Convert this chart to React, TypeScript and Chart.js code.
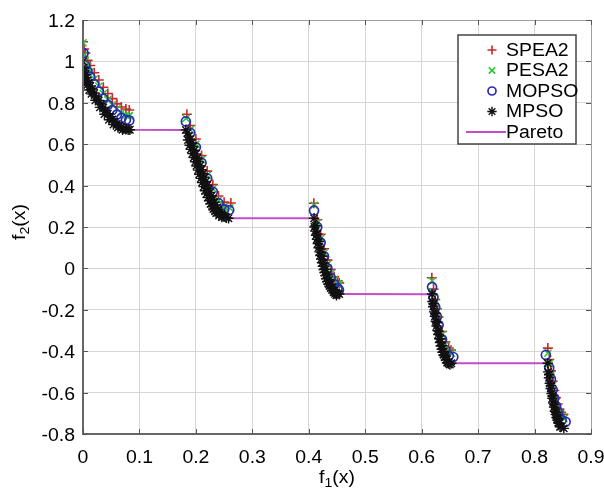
import React, { useEffect, useRef } from "react";
import { Chart, registerables } from "chart.js";
Chart.register(...registerables);

type P = [number, number];

const xTickValues = [0, 0.1, 0.2, 0.3, 0.4, 0.5, 0.6, 0.7, 0.8, 0.9];
const xTickLabels = ["0", "0.1", "0.2", "0.3", "0.4", "0.5", "0.6", "0.7", "0.8", "0.9"];
const yTickValues = [-0.8, -0.6, -0.4, -0.2, 0, 0.2, 0.4, 0.6, 0.8, 1, 1.2];
const yTickLabels = ["-0.8", "-0.6", "-0.4", "-0.2", "0", "0.2", "0.4", "0.6", "0.8", "1", "1.2"];
const seriesLabels = ["SPEA2", "PESA2", "MOPSO", "MPSO", "Pareto"];
const xTitleMain = "f";
const xTitleSub = "1";
const yTitleSub = "2";
const titleTail = "(x)";

const spea2: P[] = [
  [0, 1.095], [0.002, 1.06], [0.004, 1.04], [0.008, 1.005], [0.013, 0.98], [0.02, 0.945], [0.028, 0.91], [0.036, 0.875],
  [0.044, 0.845], [0.052, 0.82], [0.06, 0.795], [0.068, 0.78], [0.076, 0.77], [0.082, 0.765],
  [0.184, 0.745], [0.19, 0.69], [0.2, 0.625], [0.21, 0.545], [0.22, 0.47], [0.23, 0.405], [0.24, 0.35], [0.25, 0.32], [0.262, 0.316],
  [0.409, 0.315], [0.415, 0.235], [0.421, 0.165], [0.427, 0.095], [0.433, 0.04], [0.439, -0.005], [0.445, -0.04], [0.451, -0.06], [0.454, -0.07],
  [0.618, -0.045], [0.621, -0.1], [0.624, -0.15], [0.627, -0.195], [0.63, -0.235], [0.636, -0.305], [0.642, -0.355], [0.648, -0.385], [0.652, -0.395],
  [0.8235, -0.385], [0.826, -0.44], [0.829, -0.495], [0.832, -0.545], [0.835, -0.59], [0.838, -0.625], [0.841, -0.655], [0.844, -0.68], [0.847, -0.695], [0.851, -0.705],
];

const pesa2: P[] = [
  [0, 1.09], [0.002, 1.03], [0.004, 1.005], [0.008, 0.975], [0.013, 0.95], [0.02, 0.915], [0.028, 0.88], [0.036, 0.845],
  [0.044, 0.815], [0.052, 0.79], [0.06, 0.77], [0.068, 0.752], [0.076, 0.74], [0.082, 0.738],
  [0.1825, 0.725], [0.19, 0.67], [0.2, 0.6], [0.21, 0.525], [0.22, 0.45], [0.23, 0.385], [0.24, 0.33], [0.25, 0.3], [0.26, 0.292],
  [0.4095, 0.305], [0.415, 0.22], [0.421, 0.145], [0.427, 0.075], [0.433, 0.02], [0.439, -0.025], [0.445, -0.055], [0.451, -0.075], [0.454, -0.078],
  [0.6186, -0.06], [0.621, -0.115], [0.624, -0.165], [0.627, -0.21], [0.63, -0.25], [0.636, -0.32], [0.642, -0.37], [0.648, -0.4], [0.653, -0.41],
  [0.8236, -0.41], [0.826, -0.46], [0.829, -0.515], [0.832, -0.565], [0.835, -0.605], [0.838, -0.645], [0.841, -0.675], [0.844, -0.7], [0.847, -0.715], [0.852, -0.725],
];

const mopso: P[] = [
  [0.001, 1.04], [0.004, 0.98], [0.008, 0.952], [0.013, 0.925], [0.02, 0.89], [0.028, 0.855], [0.036, 0.82],
  [0.044, 0.79], [0.052, 0.765], [0.06, 0.743], [0.068, 0.727], [0.076, 0.718], [0.082, 0.715],
  [0.1822, 0.71], [0.19, 0.655], [0.2, 0.585], [0.21, 0.51], [0.22, 0.435], [0.23, 0.37], [0.24, 0.315], [0.25, 0.285], [0.259, 0.282],
  [0.4093, 0.28], [0.415, 0.2], [0.421, 0.125], [0.427, 0.058], [0.433, 0.0], [0.439, -0.045], [0.445, -0.076], [0.451, -0.095], [0.4535, -0.104],
  [0.6184, -0.09], [0.621, -0.14], [0.624, -0.187], [0.627, -0.232], [0.63, -0.274], [0.636, -0.343], [0.642, -0.393], [0.648, -0.422], [0.656, -0.428],
  [0.82, -0.418], [0.826, -0.48], [0.829, -0.535], [0.832, -0.585], [0.835, -0.627], [0.838, -0.665], [0.841, -0.695], [0.844, -0.718], [0.848, -0.733], [0.855, -0.741],
];

const mpso: P[] = [
  [0, 1.0], [0.001, 0.968], [0.002, 0.955], [0.004, 0.936], [0.006, 0.921], [0.008, 0.909], [0.01, 0.897], [0.013, 0.881],
  [0.016, 0.866], [0.02, 0.847], [0.024, 0.829], [0.028, 0.811], [0.032, 0.794], [0.036, 0.778], [0.04, 0.762], [0.044, 0.747],
  [0.048, 0.733], [0.052, 0.72], [0.056, 0.708], [0.06, 0.698], [0.064, 0.689], [0.068, 0.682], [0.072, 0.676], [0.076, 0.672],
  [0.08, 0.67], [0.083, 0.67],
  [0.001, 0.93], [0.003, 0.905], [0.007, 0.885], [0.011, 0.862], [0.015, 0.843], [0.022, 0.812], [0.03, 0.778], [0.038, 0.745],
  [0.046, 0.718], [0.054, 0.695], [0.062, 0.68], [0.07, 0.67],
  [0.1822, 0.669], [0.185, 0.654], [0.1875, 0.639], [0.19, 0.623], [0.1925, 0.606], [0.195, 0.589], [0.1975, 0.571], [0.2, 0.553],
  [0.2025, 0.534], [0.205, 0.515], [0.2075, 0.496], [0.21, 0.477], [0.2125, 0.458], [0.215, 0.439], [0.2175, 0.42], [0.22, 0.402],
  [0.2225, 0.384], [0.225, 0.367], [0.2275, 0.35], [0.23, 0.334], [0.2325, 0.319], [0.235, 0.306], [0.2375, 0.293], [0.24, 0.282],
  [0.2425, 0.272], [0.245, 0.263], [0.2475, 0.256], [0.25, 0.25], [0.254, 0.245], [0.2578, 0.242],
  [0.186, 0.62], [0.189, 0.595], [0.191, 0.575], [0.194, 0.555], [0.196, 0.535], [0.199, 0.515], [0.201, 0.495], [0.204, 0.475],
  [0.206, 0.455], [0.209, 0.435], [0.211, 0.415], [0.214, 0.395], [0.216, 0.375], [0.219, 0.36], [0.221, 0.342], [0.224, 0.327],
  [0.226, 0.312], [0.229, 0.298], [0.231, 0.287], [0.234, 0.276], [0.236, 0.267], [0.241, 0.255], [0.246, 0.248],
  [0.4093, 0.242], [0.412, 0.206], [0.415, 0.167], [0.418, 0.13], [0.421, 0.093], [0.424, 0.059], [0.427, 0.026], [0.43, -0.004],
  [0.433, -0.031], [0.436, -0.055], [0.439, -0.076], [0.442, -0.093], [0.445, -0.107], [0.448, -0.116], [0.451, -0.122], [0.4539, -0.124],
  [0.41, 0.2], [0.4115, 0.18], [0.413, 0.16], [0.4145, 0.14], [0.416, 0.12], [0.4175, 0.1], [0.419, 0.08], [0.4205, 0.062],
  [0.422, 0.045], [0.4235, 0.027], [0.425, 0.01], [0.4265, -0.005], [0.428, -0.02], [0.4295, -0.035], [0.431, -0.05],
  [0.433, -0.063], [0.435, -0.075], [0.437, -0.086], [0.439, -0.095], [0.4415, -0.105], [0.444, -0.115], [0.4465, -0.123], [0.449, -0.13],
  [0.6184, -0.124], [0.621, -0.169], [0.624, -0.217], [0.627, -0.262], [0.63, -0.303], [0.633, -0.34], [0.636, -0.373], [0.639, -0.401],
  [0.642, -0.423], [0.645, -0.44], [0.648, -0.452], [0.6525, -0.458],
  [0.619, -0.16], [0.6205, -0.185], [0.622, -0.21], [0.6235, -0.232], [0.625, -0.255], [0.6265, -0.278], [0.628, -0.3], [0.6295, -0.32],
  [0.631, -0.34], [0.6325, -0.358], [0.634, -0.375], [0.6355, -0.39], [0.637, -0.405], [0.639, -0.418], [0.641, -0.43], [0.643, -0.442],
  [0.645, -0.455], [0.6475, -0.46], [0.65, -0.465],
  [0.8233, -0.458], [0.826, -0.511], [0.829, -0.566], [0.832, -0.615], [0.835, -0.658], [0.838, -0.695], [0.841, -0.725], [0.844, -0.748],
  [0.847, -0.764], [0.8518, -0.773],
  [0.824, -0.5], [0.8255, -0.528], [0.827, -0.555], [0.8285, -0.58], [0.83, -0.605], [0.8315, -0.628], [0.833, -0.65], [0.8345, -0.67],
  [0.836, -0.69], [0.8375, -0.705], [0.839, -0.72], [0.8405, -0.733], [0.842, -0.745], [0.845, -0.765],
];

const pareto: P[] = [
  [0, 1.0], [0.002, 0.955], [0.005, 0.9285], [0.01, 0.8969], [0.02, 0.8468], [0.03, 0.8025], [0.04, 0.762], [0.05, 0.7264],
  [0.06, 0.698], [0.07, 0.6788], [0.083, 0.6696],
  [0.1822, 0.669], [0.19, 0.6228], [0.2, 0.5528], [0.21, 0.4768], [0.22, 0.4017], [0.23, 0.3343], [0.24, 0.2818], [0.25, 0.25], [0.2578, 0.2422],
  [0.4093, 0.2424], [0.415, 0.1674], [0.42, 0.105], [0.43, -0.0036], [0.44, -0.0818], [0.45, -0.1208], [0.4539, -0.1242],
  [0.6184, -0.1243], [0.624, -0.217], [0.63, -0.3034], [0.636, -0.373], [0.642, -0.423], [0.648, -0.4517], [0.6525, -0.4583],
  [0.8233, -0.4579], [0.829, -0.5656], [0.835, -0.6578], [0.841, -0.7247], [0.847, -0.7636], [0.8518, -0.7733],
];

const FONT = '"Liberation Sans", Arial, Helvetica, sans-serif';
const FS = 18;
const SX = 1.08;

const toXY = (a: P[]) => a.map(([x, y]) => ({ x, y }));

function stretchedText(ctx: CanvasRenderingContext2D, t: string, x: number, y: number, align: CanvasTextAlign) {
  ctx.save();
  ctx.translate(x, y);
  ctx.scale(SX, 1);
  ctx.textAlign = align;
  ctx.fillText(t, 0, 0);
  ctx.restore();
}

function mark(ctx: CanvasRenderingContext2D, style: string, x: number, y: number, r: number) {
  ctx.beginPath();
  if (style === "cross" || style === "star") {
    ctx.moveTo(x - r, y); ctx.lineTo(x + r, y);
    ctx.moveTo(x, y - r); ctx.lineTo(x, y + r);
  }
  if (style === "crossRot" || style === "star") {
    const d = r * 0.7071;
    ctx.moveTo(x - d, y - d); ctx.lineTo(x + d, y + d);
    ctx.moveTo(x - d, y + d); ctx.lineTo(x + d, y - d);
  }
  if (style === "circle") {
    ctx.arc(x, y, r, 0, Math.PI * 2);
  }
  ctx.stroke();
}

function titleWithSub(ctx: CanvasRenderingContext2D, sub: string, cx: number, cy: number) {
  ctx.font = `${FS}px ${FONT}`;
  const w1 = ctx.measureText(xTitleMain).width;
  const w3 = ctx.measureText(titleTail).width;
  ctx.font = `${Math.round(FS * 0.7)}px ${FONT}`;
  const w2 = ctx.measureText(sub).width;
  const total = (w1 + w2 + w3) * SX;
  let x = cx - total / 2;
  ctx.textBaseline = "alphabetic";
  ctx.font = `${FS}px ${FONT}`;
  stretchedText(ctx, xTitleMain, x, cy + 6, "left");
  x += w1 * SX;
  ctx.font = `${Math.round(FS * 0.7)}px ${FONT}`;
  stretchedText(ctx, sub, x, cy + 10, "left");
  x += w2 * SX;
  ctx.font = `${FS}px ${FONT}`;
  stretchedText(ctx, titleTail, x, cy + 6, "left");
}

const decorPlugin = {
  id: "decor",
  afterDraw(chart: any) {
    const ctx: CanvasRenderingContext2D = chart.ctx;
    const { left, right, top, bottom } = chart.chartArea;
    const xs = chart.scales.x;
    const ys = chart.scales.y;
    ctx.save();
    ctx.strokeStyle = "#a0a0a0";
    ctx.lineWidth = 1;
    ctx.beginPath();
    ctx.moveTo(left, top + 0.5); ctx.lineTo(right + 0.5, top + 0.5); ctx.lineTo(right + 0.5, bottom);
    ctx.stroke();
    ctx.strokeStyle = "#666";
    ctx.lineWidth = 2;
    ctx.beginPath();
    ctx.moveTo(left, top); ctx.lineTo(left, bottom); ctx.lineTo(right + 1, bottom);
    ctx.stroke();
    ctx.lineWidth = 1;
    ctx.strokeStyle = "#555";
    ctx.beginPath();
    xTickValues.forEach((v) => {
      const px = Math.round(xs.getPixelForValue(v)) + 0.5;
      ctx.moveTo(px, bottom); ctx.lineTo(px, bottom - 5);
      ctx.moveTo(px, top); ctx.lineTo(px, top + 5);
    });
    yTickValues.forEach((v) => {
      const py = Math.round(ys.getPixelForValue(v)) + 0.5;
      ctx.moveTo(left, py); ctx.lineTo(left + 5, py);
      ctx.moveTo(right, py); ctx.lineTo(right - 5, py);
    });
    ctx.stroke();
    ctx.fillStyle = "#000";
    ctx.font = `${FS}px ${FONT}`;
    ctx.textBaseline = "middle";
    xTickValues.forEach((v, i) => {
      stretchedText(ctx, xTickLabels[i], xs.getPixelForValue(v), bottom + 24, "center");
    });
    yTickValues.forEach((v, i) => {
      stretchedText(ctx, yTickLabels[i], left - 8, ys.getPixelForValue(v) + 2, "right");
    });
    titleWithSub(ctx, xTitleSub, (left + right) / 2, 477);
    ctx.save();
    ctx.translate(19, (top + bottom) / 2 - 5);
    ctx.rotate(-Math.PI / 2);
    titleWithSub(ctx, yTitleSub, 0, 0);
    ctx.restore();
    const bx = 458, by = 35, bw = 118, bh = 109;
    ctx.fillStyle = "#fff";
    ctx.fillRect(bx, by, bw, bh);
    ctx.strokeStyle = "#444";
    ctx.lineWidth = 1.5;
    ctx.strokeRect(bx, by, bw, bh);
    chart.data.datasets.forEach((ds: any, i: number) => {
      const ry = by + 15 + i * 20.5;
      ctx.strokeStyle = ds.borderColor;
      ctx.lineWidth = ds.borderWidth;
      if (ds.showLine) {
        ctx.beginPath();
        ctx.moveTo(bx + 8, ry); ctx.lineTo(bx + 48, ry);
        ctx.stroke();
      } else {
        mark(ctx, ds.pointStyle, bx + 34, ry, ds.pointRadius - 0.5);
      }
      ctx.fillStyle = "#000";
      ctx.font = `${FS}px ${FONT}`;
      ctx.textBaseline = "middle";
      stretchedText(ctx, ds.label, bx + 48, ry + 1, "left");
    });
    ctx.restore();
  },
};

export default function App() {
  const ref = useRef<HTMLCanvasElement>(null);
  useEffect(() => {
    if (!ref.current) return;
    const chart = new Chart(ref.current, {
      type: "scatter",
      data: {
        datasets: [
          { label: seriesLabels[0], data: toXY(spea2), pointStyle: "cross", pointRadius: 5, borderColor: "#c42a2a", backgroundColor: "rgba(0,0,0,0)", borderWidth: 1.6, order: 3 } as any,
          { label: seriesLabels[1], data: toXY(pesa2), pointStyle: "crossRot", pointRadius: 5, borderColor: "#2fc43a", backgroundColor: "rgba(0,0,0,0)", borderWidth: 1.6, order: 2 },
          { label: seriesLabels[2], data: toXY(mopso), pointStyle: "circle", pointRadius: 4.5, borderColor: "#2a2ab4", backgroundColor: "rgba(0,0,0,0)", borderWidth: 1.7, order: 1 },
          { label: seriesLabels[3], data: toXY(mpso), pointStyle: "star", pointRadius: 5.2, borderColor: "#111", backgroundColor: "rgba(0,0,0,0)", borderWidth: 1.4, order: 0 },
          { label: seriesLabels[4], data: toXY(pareto), showLine: true, pointRadius: 0, borderColor: "#c24fc8", backgroundColor: "#c24fc8", borderWidth: 2, tension: 0, order: 5 },
        ],
      },
      options: {
        animation: false,
        responsive: false,
        layout: { padding: { top: 20, right: 13, left: 0, bottom: 0 } },
        plugins: { legend: { display: false }, tooltip: { enabled: false }, title: { display: false } },
        scales: {
          x: {
            type: "linear", min: 0, max: 0.9,
            afterBuildTicks: (s: any) => { s.ticks = xTickValues.map((v) => ({ value: v })); },
            afterFit: (s: any) => { s.height = 58; },
            ticks: { display: false },
            grid: { color: "#d6d6d6", lineWidth: 1, drawTicks: false },
            border: { display: false },
          },
          y: {
            type: "linear", min: -0.8, max: 1.2,
            afterBuildTicks: (s: any) => { s.ticks = yTickValues.map((v) => ({ value: v })); },
            afterFit: (s: any) => { s.width = 83; },
            ticks: { display: false },
            grid: { color: "#d6d6d6", lineWidth: 1, drawTicks: false },
            border: { display: false },
          },
        },
      },
      plugins: [decorPlugin],
    });
    return () => chart.destroy();
  }, []);
  return (
    <div style={{ position: "fixed", left: 0, top: 0, width: 604, height: 492, background: "#fff" }}>
      <canvas ref={ref} width={604} height={492} />
    </div>
  );
}
